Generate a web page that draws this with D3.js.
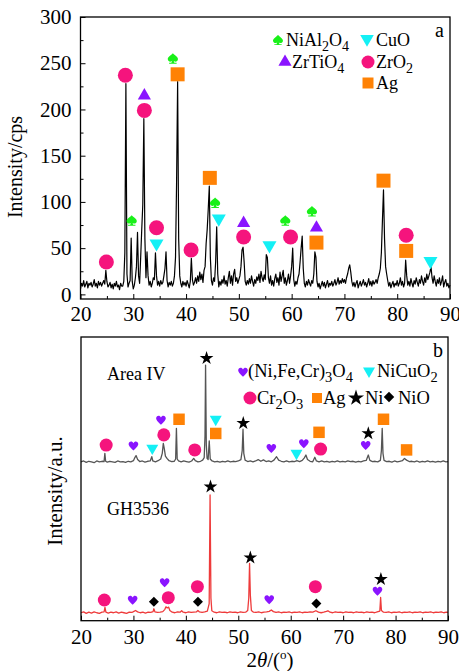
<!DOCTYPE html>
<html lang="en">
<head>
<meta charset="utf-8">
<title>XRD patterns</title>
<script src="https://d3js.org/d3.v7.min.js"></script>
<style>
  body { margin: 0; background: #fff; }
  svg { display: block; font-family: "Liberation Serif", "Times New Roman", serif; }
</style>
</head>
<body>
<svg id="chart" width="459" height="671"></svg>
<script>
// ---------- panel a : scan from 20 to 90 deg, step 0.2 deg (cps)
var scanStart = 20, scanStep = 0.2;
var countsA = [
  6, 12, 9, 15, 8, 11, 14, 7, 12, 10,       // 20.0
  13, 8, 11, 16, 9, 12, 7, 14, 10, 13,      // 22.0
  9, 12, 15, 11, 26, 14, 8, 10, 13, 7,      // 24.0
  11, 6, 12, 9, 14, 8, 10, 5, 12, 9,        // 26.0
  9, 14, 45, 228, 22, 8, 12, 15, 61, 14,    // 28.0
  6, 10, 18, 30, 67, 20, 12, 40, 70, 97,    // 30.0
  190, 60, 18, 46, 20, 10, 14, 8, 12, 18,   // 32.0
  16, 45, 20, 10, 14, 9, 15, 11, 13, 20,    // 34.0
  28, 46, 15, 8, 13, 10, 14, 9, 12, 20,     // 36.0
  40, 120, 230, 60, 20, 12, 8, 14, 10, 13,  // 38.0
  9, 15, 11, 7, 14, 39, 16, 10, 13, 18,     // 40.0
  12, 20, 14, 24, 16, 22, 13, 26, 30, 55,   // 42.0
  70, 92, 117, 40, 15, 10, 18, 14, 35, 73,  // 44.0
  22, 8, 14, 10, 16, 12, 20, 11, 15, 9,     // 46.0
  18, 25, 12, 20, 10, 22, 27, 14, 18, 12,   // 48.0
  16, 20, 30, 48, 51, 35, 14, 10, 15, 11,   // 50.0
  17, 12, 20, 14, 9, 16, 12, 19, 15, 22,    // 52.0
  13, 25, 18, 14, 21, 16, 43, 40, 18, 12,   // 54.0
  20, 10, 15, 9, 17, 22, 13, 18, 10, 24,    // 56.0
  14, 20, 26, 12, 18, 10, 15, 22, 12, 20,   // 58.0
  30, 50, 16, 9, 14, 11, 18, 22, 35, 50,    // 60.0
  63, 28, 12, 8, 14, 10, 16, 12, 9, 15,     // 62.0
  12, 22, 46, 40, 14, 8, 12, 6, 10, 14,     // 64.0
  9, 13, 7, 11, 15, 8, 12, 10, 14, 9,       // 66.0
  12, 16, 10, 13, 18, 11, 15, 12, 17, 13,   // 68.0
  16, 12, 18, 22, 28, 32, 24, 14, 9, 13,    // 70.0
  8, 12, 15, 7, 11, 14, 9, 12, 16, 10,      // 72.0
  13, 8, 12, 17, 10, 14, 9, 15, 11, 13,     // 74.0
  16, 12, 18, 22, 28, 45, 80, 113, 60, 30,  // 76.0
  22, 15, 9, 13, 7, 11, 14, 8, 12, 10,      // 78.0
  15, 9, 12, 18, 10, 14, 8, 12, 37, 20,     // 80.0
  10, 14, 9, 17, 12, 8, 15, 11, 18, 13,     // 82.0
  9, 16, 12, 20, 14, 10, 18, 13, 22, 16,    // 84.0
  20, 24, 30, 18, 12, 20, 14, 9, 16, 12,    // 86.0
  18, 10, 14, 20, 8, 13, 16, 9, 12, 7,      // 88.0
  10                                         // 90.0
];

// phase markers, panel a  [2theta, intensity]
var zro2A    = [[24.9, 35], [28.5, 237], [32.1, 199], [34.4, 72], [40.95, 48], [50.9, 62], [59.8, 62], [81.7, 64]];
var cuoA     = [[34.4, 55], [46.2, 82], [55.8, 53], [86.3, 36]];
var zrtio4A  = [[32.1, 215], [50.9, 77], [64.7, 72]];
var nial2o4A = [[29.7, 80], [37.5, 255], [45.5, 99], [58.8, 80], [63.85, 90]];
var agA      = [[38.4, 238], [44.5, 126], [64.7, 56], [77.4, 123], [81.7, 47]];

// ---------- panel b : offset patterns (a.u.)  [2theta, intensity]
var areaIV = [
  [20,56.0],[20.5,56.3],[21,55.8],[21.5,56.2],[22,56.0],[22.5,55.7],[23,56.3],[23.5,56.0],[24,56.2],[24.4,56.1],
  [24.55,59.0],[24.7,56.2],[25,55.9],[25.5,56.2],[26,56.0],[26.5,55.8],[27,56.3],[27.5,56.0],[28,56.1],[28.5,55.8],
  [29,56.2],[29.5,56.0],[30,56.4],[30.3,57.6],[30.5,58.2],[30.8,56.8],[31.2,56.1],[31.7,56.3],[32.2,55.9],[32.7,56.2],
  [33.2,56.3],[33.5,57.8],[33.7,56.3],[34.2,56.0],[34.7,56.4],[35.2,57.0],[35.5,59.0],[35.7,62.5],[35.9,60.5],[36.1,58.0],
  [36.4,57.2],[36.8,56.4],[37.3,56.1],[37.8,56.2],[38.05,57.0],[38.2,67.8],[38.35,57.0],[38.6,56.3],[39.1,56.0],[39.6,56.3],
  [40.1,56.1],[40.6,55.9],[41.1,56.3],[41.5,57.2],[41.8,56.4],[42.3,56.0],[42.8,56.2],[43.2,56.6],[43.5,57.5],[43.65,65],
  [43.76,90.1],[43.9,62],[44.05,57.2],[44.25,56.8],[44.46,63.4],[44.65,57.0],[45,56.3],[45.5,56.0],[46,56.2],[46.5,55.9],
  [47,56.2],[47.5,56.0],[48,56.3],[48.5,56.0],[49,56.2],[49.5,56.1],[50,56.3],[50.5,56.8],[50.75,60],[50.9,67.5],
  [51.05,59],[51.3,56.6],[51.8,56.1],[52.3,56.3],[52.8,56.0],[53.3,56.3],[53.8,56.8],[54.3,56.2],[54.8,56.7],[55.3,56.1],
  [55.8,56.3],[56.3,56.0],[56.8,56.6],[57.3,57.8],[57.7,56.6],[58.2,56.2],[58.7,56.0],[59.2,56.3],[59.7,56.0],[60.2,56.2],
  [60.7,56.1],[61.2,56.4],[61.7,56.1],[62.2,56.5],[62.6,57.4],[62.9,58.4],[63.2,56.8],[63.7,56.2],[64.2,56.0],[64.6,57.6],
  [64.9,56.3],[65.4,56.0],[65.9,56.3],[66.4,56.0],[66.9,56.2],[67.4,55.9],[67.9,56.2],[68.4,56.0],[68.9,56.3],[69.4,56.0],
  [69.9,56.2],[70.4,56.0],[70.9,56.3],[71.4,56.1],[71.9,56.2],[72.4,55.9],[72.9,56.2],[73.4,56.0],[73.9,56.3],[74.4,56.5],
  [74.8,58.4],[75.1,56.5],[75.6,56.1],[76.1,56.2],[76.6,56.0],[77.1,56.5],[77.3,60],[77.45,67.8],[77.6,59],[77.8,56.5],
  [78.3,56.1],[78.8,56.2],[79.3,55.9],[79.8,56.3],[80.3,56.0],[80.8,56.2],[81.3,56.4],[81.7,57.2],[82.1,56.6],[82.6,56.1],
  [83.1,56.2],[83.6,56.0],[84.1,56.3],[84.6,55.9],[85.1,56.2],[85.6,56.0],[86.1,56.3],[86.6,56.0],[87.1,56.2],[87.6,55.9],
  [88.1,56.2],[88.6,56.0],[89.1,56.3],[89.6,56.0],[90,56.1]
];
var gh3536 = [
  [20,2.8],[20.5,3.1],[21,2.6],[21.5,3.0],[22,2.7],[22.5,3.1],[23,2.8],[23.5,2.6],[24,3.0],[24.4,3.1],
  [24.57,4.7],[24.75,3.0],[25.2,2.7],[25.7,3.0],[26.2,2.8],[26.7,3.1],[27.2,2.7],[27.7,3.0],[28.2,2.8],[28.7,2.6],
  [29.2,3.0],[29.7,2.9],[30.1,3.3],[30.4,3.6],[30.8,3.1],[31.3,2.8],[31.8,3.0],[32.3,2.7],[32.8,3.0],[33.3,2.9],
  [33.75,3.2],[33.9,4.2],[34.1,3.1],[34.6,2.9],[35.1,3.0],[35.6,3.2],[36.0,4.0],[36.2,4.9],[36.45,4.5],[36.7,4.8],
  [36.95,3.6],[37.4,3.0],[37.9,2.8],[38.4,3.1],[38.9,3.0],[39.2,3.5],[39.5,3.0],[40,2.8],[40.5,3.1],[41,2.9],
  [41.5,3.0],[42,3.1],[42.3,3.6],[42.6,3.1],[43.1,2.9],[43.6,3.1],[44.1,3.4],[44.45,6],[44.62,44.3],[44.78,8],
  [44.95,3.5],[45.4,3.0],[45.9,2.8],[46.4,3.1],[46.9,2.9],[47.4,3.0],[47.9,2.8],[48.4,3.1],[48.9,2.9],[49.4,3.0],
  [49.9,2.8],[50.4,3.1],[50.9,2.9],[51.4,3.0],[51.8,3.6],[52.0,8],[52.15,20.2],[52.3,9],[52.5,3.6],[52.9,3.0],
  [53.4,2.9],[53.9,3.1],[54.4,2.8],[54.9,3.0],[55.4,3.1],[55.9,3.3],[56.3,3.8],[56.7,3.2],[57.2,2.9],[57.7,3.1],
  [58.2,2.8],[58.7,3.0],[59.2,2.9],[59.7,3.1],[60.2,2.8],[60.7,3.0],[61.2,2.9],[61.7,3.1],[62.2,2.8],[62.7,3.0],
  [63.2,2.9],[63.7,3.1],[64.2,3.0],[64.8,3.5],[65.3,3.0],[65.8,2.8],[66.3,3.0],[66.8,3.3],[67.1,3.5],[67.5,3.0],
  [68,2.8],[68.5,3.1],[69,2.9],[69.5,3.0],[70,2.8],[70.5,3.1],[71,2.9],[71.5,3.0],[72,2.8],[72.5,3.1],
  [73,2.9],[73.5,3.0],[74,2.8],[74.5,3.1],[75,2.9],[75.5,3.0],[76,2.8],[76.5,3.1],[77.0,3.4],[77.15,8.2],
  [77.3,3.6],[77.7,3.0],[78.2,2.9],[78.7,3.1],[79.2,2.8],[79.7,3.0],[80.2,2.9],[80.7,3.1],[81.2,2.8],[81.7,3.0],
  [82.2,2.9],[82.7,3.1],[83.2,2.8],[83.7,3.0],[84.2,2.9],[84.7,3.1],[85.2,2.8],[85.7,3.0],[86.2,2.9],[86.7,3.1],
  [87.2,2.8],[87.7,3.0],[88.2,2.9],[88.7,3.1],[89.2,2.8],[89.7,3.0],[90,2.9]
];

// phase markers, panel b
var spinelB = [[30.0, 61.7], [35.25, 70.7], [56.3, 60.8], [62.5, 62.5], [74.3, 61.8],
               [29.85, 7.3], [35.95, 13.5], [55.9, 7.5], [76.55, 10.5]];
var nicuo2B = [[33.6, 60.8], [45.7, 71], [61.1, 59]];
var cr2o3B  = [[24.8, 61.9], [35.8, 65.5], [41.7, 60.2], [65.7, 60.5],
               [24.45, 7.3], [36.65, 8.1], [42.2, 12], [64.7, 12]];
var agB     = [[38.7, 71], [45.7, 66], [65.4, 66.4], [77.7, 71], [82.1, 60.2]];
var niB     = [[43.95, 92.5], [50.95, 69.6], [74.8, 66], [44.7, 47.2], [52.3, 22.2], [77.2, 14.6]];
var nioB    = [[33.9, 6.7], [42.3, 6.7], [64.9, 6.1]];

var xTicksMajor = [20, 30, 40, 50, 60, 70, 80, 90];
var xTicksMinor = [25, 35, 45, 55, 65, 75, 85];
var yTicksA = [0, 50, 100, 150, 200, 250, 300];
var yTicksAMinor = [25, 75, 125, 175, 225, 275];

var green = "#19f019", cyan = "#14f0f5", violet = "#8a14ff", pink = "#f5147d", orange = "#ff8205";

var svg = d3.select("#chart");

// custom symbols
var symSpade = {
  draw: function(c, size) {
    var r = Math.sqrt(size) / 2;
    c.moveTo(0, -r * 1.05);
    c.bezierCurveTo(r*0.5, -r*0.55, r*1.15, -r*0.25, r*1.0, r*0.25);
    c.bezierCurveTo(r*0.9, r*0.7, r*0.3, r*0.75, 0, r*0.3);
    c.bezierCurveTo(-r*0.3, r*0.75, -r*0.9, r*0.7, -r*1.0, r*0.25);
    c.bezierCurveTo(-r*1.15, -r*0.25, -r*0.5, -r*0.55, 0, -r * 1.05);
    c.closePath();
    c.moveTo(-r*0.12, r*0.35); c.lineTo(r*0.12, r*0.35); c.lineTo(r*0.3, r*0.85);
    c.lineTo(r*0.75, r*0.85); c.lineTo(r*0.75, r*1.05); c.lineTo(-r*0.75, r*1.05);
    c.lineTo(-r*0.75, r*0.85); c.lineTo(-r*0.3, r*0.85);
    c.closePath();
  }
};
var symHeart = {
  draw: function(c, size) {
    var r = Math.sqrt(size) / 2;
    c.moveTo(0, r*0.95);
    c.bezierCurveTo(-r*0.6, r*0.35, -r*1.05, -r*0.05, -r*0.95, -r*0.45);
    c.bezierCurveTo(-r*0.85, -r*0.95, -r*0.2, -r*1.0, 0, -r*0.5);
    c.bezierCurveTo(r*0.2, -r*1.0, r*0.85, -r*0.95, r*0.95, -r*0.45);
    c.bezierCurveTo(r*1.05, -r*0.05, r*0.6, r*0.35, 0, r*0.95);
    c.closePath();
  }
};

function drawMarks(g, data, x, y, type, size, color, rot) {
  g.selectAll(null).data(data).enter().append("path")
    .attr("d", d3.symbol().type(type).size(size))
    .attr("transform", function(d) { return "translate(" + x(d[0]) + "," + y(d[1]) + ")" + (rot ? " rotate(" + rot + ")" : ""); })
    .attr("fill", color);
}
function legendMark(g, cx, cy, type, size, color, rot) {
  g.append("path").attr("d", d3.symbol().type(type).size(size))
    .attr("transform", "translate(" + cx + "," + cy + ")" + (rot ? " rotate(" + rot + ")" : ""))
    .attr("fill", color);
}
// text with "_n" subscripts
function richText(g, x, y, str, fs) {
  var t = g.append("text").attr("x", x).attr("y", y).attr("font-size", fs).attr("fill", "#000");
  var parts = str.split(/(_\d)/), down = false;
  parts.forEach(function(p) {
    if (!p) return;
    if (p[0] === "_") {
      t.append("tspan").attr("dy", fs * 0.25).attr("font-size", fs * 0.78).text(p[1]);
      down = true;
    } else {
      t.append("tspan").attr("dy", down ? -fs * 0.25 : 0).text(p);
      down = false;
    }
  });
  return t;
}

function frame(g, x, y) {
  g.append("rect").attr("x", x.range()[0]).attr("y", y.range()[1])
    .attr("width", x.range()[1] - x.range()[0]).attr("height", y.range()[0] - y.range()[1])
    .attr("fill", "none").attr("stroke", "#000").attr("stroke-width", 1.3);
}
function xAxis(g, x, y, pad) {
  var ax = g.append("g").attr("transform", "translate(0," + y.range()[0] + ")")
    .call(d3.axisBottom(x).tickValues(xTicksMajor).tickFormat(d3.format("d")).tickSize(-5).tickPadding(pad));
  ax.select(".domain").remove();
  ax.selectAll("text").attr("font-size", 21).attr("font-family", "Liberation Serif, serif").attr("fill", "#000");
  var mn = g.append("g").attr("transform", "translate(0," + y.range()[0] + ")")
    .call(d3.axisBottom(x).tickValues(xTicksMinor).tickFormat("").tickSize(-3));
  mn.select(".domain").remove();
}

// ================= panel a =================
var xA = d3.scaleLinear().domain([20, 90]).range([80.5, 450]);
var yA = d3.scaleLinear().domain([-5, 300]).range([299, 17]);
var gA = svg.append("g");

var lineA = d3.line()
  .x(function(d, i) { return xA(scanStart + i * scanStep); })
  .y(function(d) { return yA(d); });
gA.append("path").datum(countsA).attr("d", lineA)
  .attr("fill", "none").attr("stroke", "#000").attr("stroke-width", 1.2).attr("stroke-linejoin", "round");

xAxis(gA, xA, yA, 7);
var ayA = gA.append("g").attr("transform", "translate(" + xA.range()[0] + ",0)")
  .call(d3.axisLeft(yA).tickValues(yTicksA).tickSize(-5).tickPadding(9));
ayA.select(".domain").remove();
ayA.selectAll("text").attr("font-size", 21).attr("font-family", "Liberation Serif, serif").attr("fill", "#000");
var ayAm = gA.append("g").attr("transform", "translate(" + xA.range()[0] + ",0)")
  .call(d3.axisLeft(yA).tickValues(yTicksAMinor).tickFormat("").tickSize(-3));
ayAm.select(".domain").remove();
frame(gA, xA, yA);

gA.append("text").attr("transform", "translate(22,167) rotate(-90)").attr("text-anchor", "middle")
  .attr("font-size", 20).text("Intensity/cps");

drawMarks(gA, zro2A, xA, yA, d3.symbolCircle, 177, pink);
drawMarks(gA, cuoA, xA, yA, d3.symbolTriangle, 85, cyan, 180);
drawMarks(gA, zrtio4A, xA, yA, d3.symbolTriangle, 75, violet);
drawMarks(gA, nial2o4A, xA, yA, symSpade, 100, green);
drawMarks(gA, agA, xA, yA, d3.symbolSquare, 196, orange);

// legend a
legendMark(gA, 278, 40, symSpade, 95, green);
richText(gA, 286, 46, "NiAl_2O_4", 18);
legendMark(gA, 367, 39, d3.symbolTriangle, 80, cyan, 180);
richText(gA, 376, 46, "CuO", 18);
legendMark(gA, 285, 62, d3.symbolTriangle, 75, violet);
richText(gA, 292, 68, "ZrTiO_4", 18);
legendMark(gA, 368, 62, d3.symbolCircle, 133, pink);
richText(gA, 376, 68, "ZrO_2", 18);
legendMark(gA, 368, 83, d3.symbolSquare, 121, orange);
richText(gA, 376, 89, "Ag", 18);
gA.append("text").attr("x", 435).attr("y", 37).attr("font-size", 20).text("a");

// ================= panel b =================
var xB = d3.scaleLinear().domain([20, 90]).range([81, 448]);
var yB = d3.scaleLinear().domain([0, 100]).range([620.7, 337]);
var gB = svg.append("g");

var lineB = d3.line()
  .x(function(d) { return xB(d[0]); })
  .y(function(d) { return yB(d[1]); });
gB.append("path").datum(areaIV).attr("d", lineB)
  .attr("fill", "none").attr("stroke", "#555").attr("stroke-width", 1.3).attr("stroke-linejoin", "round");
gB.append("path").datum(gh3536).attr("d", lineB)
  .attr("fill", "none").attr("stroke", "#ee3b3b").attr("stroke-width", 1.3).attr("stroke-linejoin", "round");

xAxis(gB, xB, yB, 8);
frame(gB, xB, yB);

gB.append("text").attr("transform", "translate(62,491) rotate(-90)").attr("text-anchor", "middle")
  .attr("font-size", 21).text("Intensity/a.u.");
var xl = gB.append("text").attr("x", 270).attr("y", 667).attr("text-anchor", "middle").attr("font-size", 21);
xl.append("tspan").text("2");
xl.append("tspan").attr("font-style", "italic").text("θ");
xl.append("tspan").text("/(");
xl.append("tspan").attr("dy", -8).attr("font-size", 13).text("o");
xl.append("tspan").attr("dy", 8).text(")");

gB.append("text").attr("x", 107).attr("y", 380).attr("font-size", 18).text("Area IV");
gB.append("text").attr("x", 107).attr("y", 515).attr("font-size", 18).text("GH3536");

drawMarks(gB, cr2o3B, xB, yB, d3.symbolCircle, 133, pink);
drawMarks(gB, nicuo2B, xB, yB, d3.symbolTriangle, 62, cyan, 180);
drawMarks(gB, agB, xB, yB, d3.symbolSquare, 132, orange);
drawMarks(gB, spinelB, xB, yB, symHeart, 100, violet);
drawMarks(gB, niB, xB, yB, d3.symbolStar, 58, "#000");
drawMarks(gB, nioB, xB, yB, d3.symbolSquare, 50, "#000", 45);

// legend b
legendMark(gB, 243, 372, symHeart, 100, violet);
richText(gB, 248, 377, "(Ni,Fe,Cr)_3O_4", 18.5);
legendMark(gB, 369, 371, d3.symbolTriangle, 62, cyan, 180);
richText(gB, 377, 377, "NiCuO_2", 18.5);
legendMark(gB, 250, 398, d3.symbolCircle, 133, pink);
richText(gB, 257, 404, "Cr_2O_3", 18.5);
legendMark(gB, 317, 398, d3.symbolSquare, 100, orange);
richText(gB, 323, 404, "Ag", 18.5);
legendMark(gB, 356, 398, d3.symbolStar, 80, "#000");
richText(gB, 365, 404, "Ni", 18.5);
legendMark(gB, 389, 397, d3.symbolSquare, 55, "#000", 45);
richText(gB, 398, 404, "NiO", 18.5);
gB.append("text").attr("x", 433).attr("y", 357).attr("font-size", 20).text("b");
</script>
</body>
</html>
